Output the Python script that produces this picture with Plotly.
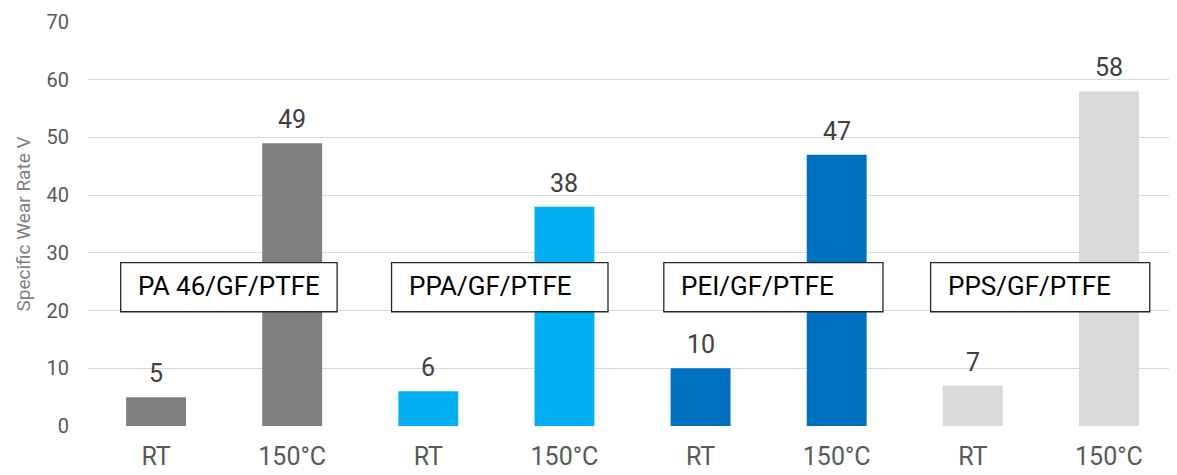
import plotly.graph_objects as go

# bar data (two conditions per material)
conditions = ["RT", "150°C", "RT", "150°C", "RT", "150°C", "RT", "150°C"]
wear_rate = [5, 49, 6, 38, 10, 47, 7, 58]
bar_colors = ["#7f7f7f", "#7f7f7f", "#00b0f0", "#00b0f0",
              "#0070c0", "#0070c0", "#d9d9d9", "#d9d9d9"]
materials = ["PA 46/GF/PTFE", "PPA/GF/PTFE", "PEI/GF/PTFE", "PPS/GF/PTFE"]

FONT = "Roboto, Arial"
x_pos = list(range(len(conditions)))

fig = go.Figure()
fig.add_trace(go.Bar(
    x=x_pos, y=wear_rate,
    marker=dict(color=bar_colors, line=dict(width=0)),
    width=0.44,
))

# value labels above the bars
for xv, v in zip(x_pos, wear_rate):
    fig.add_annotation(x=xv, y=v, text=str(v), showarrow=False, yanchor="bottom", yshift=7,
                       font=dict(size=25, color="#404040", family=FONT))

# material label boxes, spanning each pair of bars
box_x = [(-0.26, 1.33), (1.73, 3.32), (3.73, 5.34), (5.69, 7.30)]
for (x0, x1), name in zip(box_x, materials):
    fig.add_shape(type="rect", xref="x", yref="y", x0=x0, x1=x1, y0=19.8, y1=28.3,
                  line=dict(color="#262626", width=1.3), fillcolor="white", layer="above")
    fig.add_annotation(x=x0, y=24.2, xref="x", yref="y", text=name, showarrow=False,
                       xanchor="left", xshift=15, font=dict(size=26, color="black", family=FONT))

# page body has an 8px margin, so the figure is shrunk by that much
fig.update_layout(
    width=1169, height=467,
    margin=dict(l=80, r=0, t=14, b=49),
    plot_bgcolor="white", paper_bgcolor="white",
    showlegend=False,
    font=dict(family=FONT, color="#595959"),
    xaxis=dict(tickvals=x_pos, ticktext=conditions, range=[-0.5, 7.5],
               showgrid=False, zeroline=False, showline=False, automargin=False,
               tickfont=dict(size=25, color="#595959"), ticklabelstandoff=13),
    yaxis=dict(range=[0, 70], dtick=10, showgrid=True, gridcolor="#d9d9d9", gridwidth=1,
               zeroline=False, showline=False, automargin=False,
               tickfont=dict(size=20, color="#595959"), ticklabelstandoff=18,
               title=dict(text="Specific Wear Rate V", font=dict(size=19, color="#7f7f7f"),
                          standoff=10)),
)

fig.write_html("out.html")
